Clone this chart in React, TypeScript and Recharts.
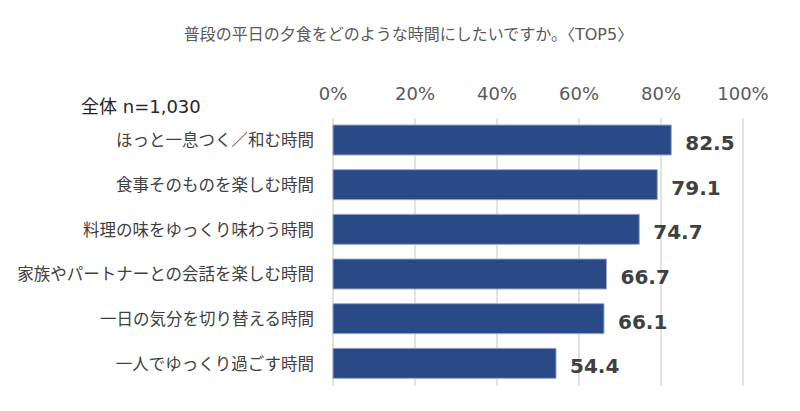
import React from 'react';
import { BarChart, Bar, XAxis, YAxis, CartesianGrid, LabelList } from 'recharts';

const categories = [
  'ほっと一息つく／和む時間',
  '食事そのものを楽しむ時間',
  '料理の味をゆっくり味わう時間',
  '家族やパートナーとの会話を楽しむ時間',
  '一日の気分を切り替える時間',
  '一人でゆっくり過ごす時間',
];
const values = [82.5, 79.1, 74.7, 66.7, 66.1, 54.4];
const xTicks = [0, 20, 40, 60, 80, 100];
const title = '普段の平日の夕食をどのような時間にしたいですか。〈TOP5〉';
const sampleLabel = '全体 n=1,030';

const data = categories.map((name, i) => ({ name, value: values[i] }));

const FONT = "'DejaVu Sans', 'Noto Sans CJK JP', sans-serif";

const ValueLabel = (props: any) => {
  const { x, y, width, height, value } = props;
  return (
    <text
      x={Number(x) + Number(width) + 14}
      y={Number(y) + Number(height) / 2 + 3}
      fill="#404040"
      fontSize={20}
      fontWeight="bold"
      fontFamily={FONT}
      dominantBaseline="central"
      textAnchor="start"
    >
      {Number(value).toFixed(1)}
    </text>
  );
};

export default function App() {
  return (
    <div style={{ position: 'absolute', left: 0, top: 0, width: 800, height: 411, background: '#fff' }}>
      <div
        style={{
          position: 'absolute',
          left: 0,
          width: 800,
          top: 25,
          textAlign: 'center',
          fontFamily: FONT,
          fontSize: 16,
          color: '#595959',
          lineHeight: '20px',
          paddingLeft: 17,
          boxSizing: 'border-box',
          whiteSpace: 'nowrap',
        }}
      >
        {title}
      </div>
      <div
        style={{
          position: 'absolute',
          left: 81,
          top: 96,
          fontFamily: FONT,
          fontSize: 18,
          color: '#262626',
          lineHeight: '22px',
          whiteSpace: 'nowrap',
        }}
      >
        {sampleLabel}
      </div>
      <BarChart
        width={800}
        height={411}
        data={data}
        layout="vertical"
        margin={{ top: 78, right: 57, bottom: 25, left: 0 }}
        barSize={30}
      >
        <CartesianGrid horizontal={false} vertical={true} stroke="#D9D9D9" strokeWidth={1.5} />
        <XAxis
          type="number"
          orientation="top"
          domain={[0, 100]}
          ticks={xTicks}
          tickFormatter={(v: number) => `${v}%`}
          axisLine={false}
          tickLine={false}
          tickSize={0}
          tickMargin={18}
          height={40}
          tick={{ fill: '#595959', fontSize: 18, fontFamily: FONT }}
        />
        <YAxis
          type="category"
          dataKey="name"
          width={333}
          axisLine={false}
          tickLine={false}
          tickSize={0}
          tickMargin={19}
          interval={0}
          tick={{ fill: '#404040', fontSize: 16.5, fontFamily: FONT }}
        />
        <Bar dataKey="value" fill="#2A4A87" stroke="#9AA8C4" strokeWidth={1} isAnimationActive={false}>
          <LabelList dataKey="value" content={ValueLabel} />
        </Bar>
      </BarChart>
    </div>
  );
}
